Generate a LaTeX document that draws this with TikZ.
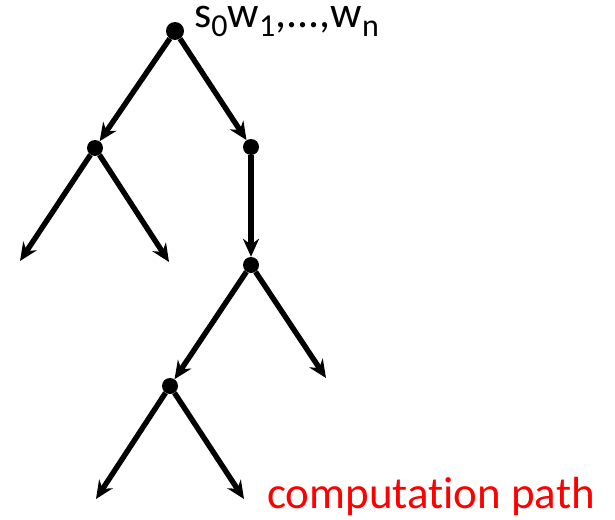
\documentclass[tikz,border=0pt]{standalone}
\usepackage{fontspec}
\setmainfont{Carlito}[Ligatures=NoCommon]
\usetikzlibrary{arrows.meta}
\newcommand{\lowsub}[1]{\raisebox{-9pt}{\fontsize{32}{32}\selectfont #1}}
\begin{document}
\begin{tikzpicture}[x=1pt, y=-1pt, >={Stealth[length=18pt,width=16pt]},
  dot/.style={circle, fill, inner sep=0pt, minimum size=16pt},
  edge/.style={->, line width=5.4pt}]
  \useasboundingbox (0,0) rectangle (615,519);
  \node[dot, minimum size=18pt] (root) at (175,31) {};
  \node[dot] (l) at (95,148) {};
  \node[dot] (r) at (251,147) {};
  \node[dot] (rr) at (251,265) {};
  \node[dot] (rl) at (170,386) {};
  \coordinate (lleft) at (20,261);
  \coordinate (lright) at (169,262);
  \coordinate (rrright) at (326,378);
  \coordinate (rlleft) at (96,499);
  \coordinate (rlright) at (244,499);
  \draw[edge] (root) -- (l);
  \draw[edge] (root) -- (r);
  \draw[edge] (l) -- (lleft);
  \draw[edge] (l) -- (lright);
  \draw[edge] (r) -- (rr);
  \draw[edge] (rr) -- (rl);
  \draw[edge] (rr) -- (rrright);
  \draw[edge] (rl) -- (rlleft);
  \draw[edge] (rl) -- (rlright);
  \node[anchor=base west, inner sep=0pt, font=\fontsize{44}{44}\selectfont] (input) at (194,28) {s\lowsub{0}w\lowsub{1},...,w\lowsub{n}};
  \node[anchor=base west, inner sep=0pt, red, font=\fontsize{45}{45}\selectfont] (path) at (267,508) {computation path};
\end{tikzpicture}
\end{document}
